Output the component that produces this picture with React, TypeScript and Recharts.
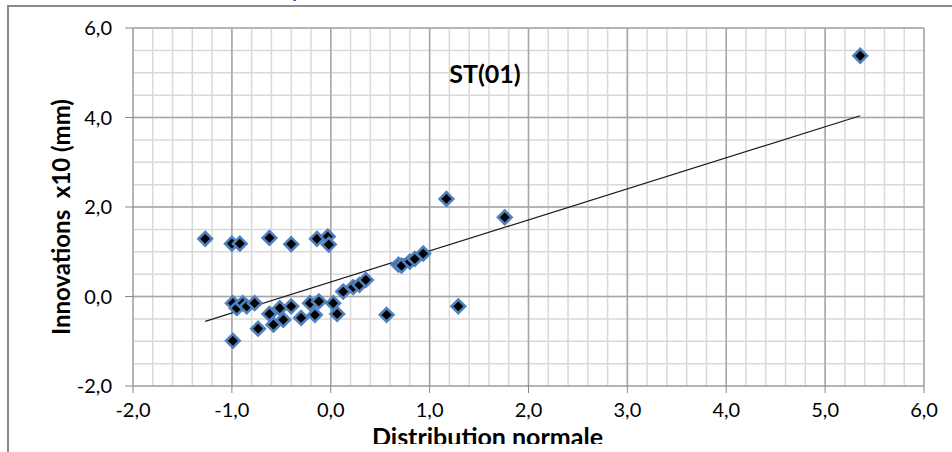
import React from 'react';
import {
  ScatterChart,
  Scatter,
  XAxis,
  YAxis,
  ReferenceLine,
  Label,
} from 'recharts';

// Residuals of station ST(01) against the normal quantiles
const QUANTILES = [
  -1.27, -1.0, -0.99, -0.99, -0.95, -0.92, -0.89, -0.85, -0.77, -0.735,
  -0.62, -0.62, -0.58, -0.515, -0.48, -0.4, -0.4, -0.3, -0.21, -0.16,
  -0.14, -0.12, -0.03, -0.02, 0.025, 0.065, 0.126, 0.227, 0.29, 0.355,
  0.565, 0.685, 0.716, 0.8, 0.85, 0.935, 1.17, 1.29, 1.76, 5.355,
];
const INNOVATIONS = [
  1.29, 1.18, -0.99, -0.15, -0.26, 1.18, -0.15, -0.22, -0.15, -0.72,
  1.31, -0.39, -0.63, -0.26, -0.52, 1.17, -0.22, -0.48, -0.15, -0.41,
  1.29, -0.11, 1.34, 1.16, -0.15, -0.39, 0.11, 0.21, 0.26, 0.37,
  -0.41, 0.71, 0.69, 0.78, 0.84, 0.96, 2.18, -0.22, 1.77, 5.38,
];

// Linear trend line end points
const TREND_X = [-1.27, 5.355];
const TREND_Y = [-0.555, 4.04];

const X_TICKS = [-2, -1, 0, 1, 2, 3, 4, 5, 6];
const Y_TICKS = [-2, 0, 2, 4, 6];
const X_MINOR_STEP = 0.2;
const Y_MINOR_STEP = 0.5;

const TITLE = 'ST(01)';

const points = QUANTILES.map((x, i) => ({ x, y: INNOVATIONS[i] }));
const trend = TREND_X.map((x, i) => ({ x, y: TREND_Y[i] }));

const steps = (from: number, to: number, step: number) => {
  const out: number[] = [];
  const n = Math.round((to - from) / step);
  for (let i = 0; i <= n; i++) out.push(+(from + i * step).toFixed(4));
  return out;
};
const xMinor = steps(-2, 6, X_MINOR_STEP);
const yMinor = steps(-2, 6, Y_MINOR_STEP);

const fmt = (v: number) => v.toFixed(1).replace('.', ',');

const FONT = 'Lato, "Open Sans", sans-serif';
const MINOR_GRID = '#d9d9d9';
const MAJOR_GRID = '#a6a6a6';

const Diamond = (props: any) => {
  const { cx, cy } = props;
  if (cx == null || cy == null) return <g />;
  const r = 6.8;
  return (
    <polygon
      points={`${cx},${cy - r} ${cx + r},${cy} ${cx},${cy + r} ${cx - r},${cy}`}
      fill="#000"
      stroke="#4F81BD"
      strokeWidth={2.6}
    />
  );
};

const YTitle = (props: any) => {
  const vb = props.viewBox || { x: 0, y: 0, width: 0, height: 0 };
  const cx = vb.x + 52;
  const cy = 217;
  return (
    <text
      x={cx}
      y={cy}
      transform={`rotate(-90 ${cx} ${cy})`}
      textAnchor="middle"
      dominantBaseline="central"
      fontFamily={FONT}
      fontWeight="bold"
      fontSize={24}
      fill="#000"
      style={{ whiteSpace: 'pre' }}
    >
      {'Innovations  x10 (mm)'}
    </text>
  );
};

const XTitle = (props: any) => {
  const vb = props.viewBox || { x: 0, y: 0, width: 0, height: 0 };
  const cx = vb.x + vb.width / 2 - 41;
  const top = vb.y + 42;
  return (
    <g>
      <defs>
        <clipPath id="xTitleClip">
          <rect x={0} y={0} width={952} height={444} />
        </clipPath>
      </defs>
      <text
        x={cx}
        y={top}
        dy="0.71em"
        textAnchor="middle"
        fontFamily={FONT}
        fontWeight="bold"
        fontSize={25}
        fill="#000"
        clipPath="url(#xTitleClip)"
      >
        Distribution normale
      </text>
    </g>
  );
};

export default function App() {
  return (
    <div
      style={{
        position: 'absolute',
        left: 0,
        top: 0,
        width: 952,
        height: 452,
        overflow: 'hidden',
        background: '#fff',
      }}
    >
      <div
        style={{
          position: 'absolute',
          left: 7,
          top: 5,
          right: 0,
          bottom: 0,
          borderTop: '2px solid #8a8a8a',
          borderLeft: '2px solid #8a8a8a',
        }}
      />
      <svg
        width={20}
        height={10}
        style={{ position: 'absolute', left: 288, top: 0 }}
      >
        <text x={6} y={-2} fontFamily={FONT} fontSize={16} fill="#1f2a8f">
          j
        </text>
      </svg>
      <div style={{ position: 'absolute', left: 0, top: 0 }}>
        <ScatterChart
          width={952}
          height={452}
          margin={{ top: 28, right: 28, bottom: 26, left: 8 }}
        >
          <XAxis
            type="number"
            dataKey="x"
            domain={[-2, 6]}
            ticks={X_TICKS}
            allowDataOverflow
            height={40}
            tickFormatter={fmt}
            tickSize={7}
            tickMargin={10}
            stroke="#868686"
            tick={{ fill: '#000', fontSize: 20, fontFamily: FONT }}
          >
            <Label content={<XTitle />} />
          </XAxis>
          <YAxis
            type="number"
            dataKey="y"
            domain={[-2, 6]}
            ticks={Y_TICKS}
            allowDataOverflow
            width={125}
            tickFormatter={fmt}
            tickSize={8}
            tickMargin={13}
            stroke="#868686"
            tick={{ fill: '#000', fontSize: 20, fontFamily: FONT }}
          >
            <Label content={<YTitle />} />
          </YAxis>
          {xMinor.map((v) => (
            <ReferenceLine
              key={`xm${v}`}
              x={v}
              stroke={MINOR_GRID}
              strokeWidth={1.5}
            />
          ))}
          {yMinor.map((v) => (
            <ReferenceLine
              key={`ym${v}`}
              y={v}
              stroke={MINOR_GRID}
              strokeWidth={1.5}
            />
          ))}
          {X_TICKS.slice(1).map((v) => (
            <ReferenceLine
              key={`xM${v}`}
              x={v}
              stroke={MAJOR_GRID}
              strokeWidth={1.5}
            />
          ))}
          {Y_TICKS.slice(1).map((v) => (
            <ReferenceLine
              key={`yM${v}`}
              y={v}
              stroke={MAJOR_GRID}
              strokeWidth={1.5}
            />
          ))}
          <Scatter
            data={trend}
            line={{ stroke: '#1a1a1a', strokeWidth: 1.2 }}
            shape={() => <g />}
            isAnimationActive={false}
          />
          <Scatter
            data={points}
            shape={<Diamond />}
            isAnimationActive={false}
          />
        </ScatterChart>
      </div>
      {/* chart title, drawn above the grid */}
      <svg
        width={952}
        height={120}
        style={{ position: 'absolute', left: 0, top: 0, pointerEvents: 'none' }}
      >
        <text
          x={485}
          y={73}
          textAnchor="middle"
          dominantBaseline="central"
          fontFamily={FONT}
          fontWeight="bold"
          fontSize={25}
          fill="#000"
        >
          {TITLE}
        </text>
      </svg>
    </div>
  );
}
